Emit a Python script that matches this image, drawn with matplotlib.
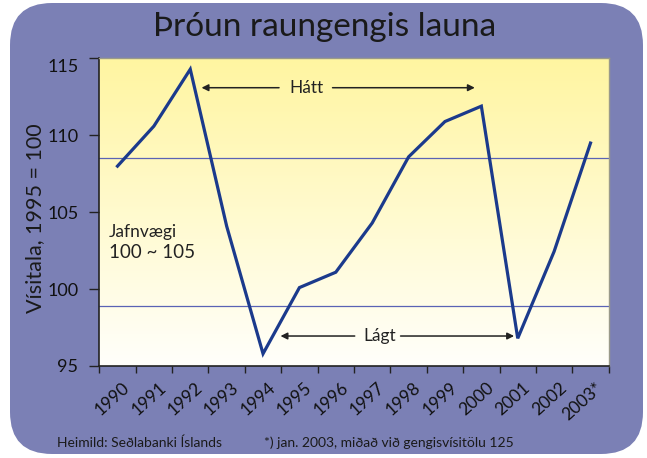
import matplotlib
matplotlib.use("Agg")
import matplotlib.pyplot as plt
import numpy as np
from matplotlib.patches import FancyBboxPatch
import matplotlib.transforms as mtransforms

years = ["1990", "1991", "1992", "1993", "1994", "1995", "1996", "1997",
         "1998", "1999", "2000", "2001", "2002", "2003*"]
index_values = [108.0, 110.6, 114.3, 104.1, 95.8, 100.1, 101.1, 104.3,
                108.6, 110.9, 111.9, 96.8, 102.45, 109.5]
band_lines = [98.9, 108.5]
y_ticks = [95, 100, 105, 110, 115]

title = "Þróun raungengis launa"
ylabel = "Vísitala, 1995 = 100"
source = "Heimild: Seðlabanki Íslands"
note = "*) jan. 2003, miðað við gengisvísitölu 125"

FONT = ["Lato", "DejaVu Sans"]
plt.rcParams['font.family'] = FONT

PANEL = "#7b80b5"
LINE = "#1b3a8c"
HLINE = "#5a63b5"

fig = plt.figure(figsize=(6.47, 4.58), dpi=100)
fig.patch.set_facecolor("white")

# rounded purple panel
W, H = 647, 458
panel = FancyBboxPatch((10 / W, 4 / H), (643 - 10) / W, (455 - 4) / H,
                       boxstyle="round,pad=0,rounding_size=0.065",
                       transform=fig.transFigure, facecolor=PANEL,
                       edgecolor="none", zorder=0,
                       mutation_aspect=W / H)
fig.patches.append(panel)

ax = fig.add_axes([99.3 / W, 1 - 366 / H, (608.7 - 99.3) / W, (366 - 58.5) / H])
ax.set_zorder(1)

x = np.arange(len(years))
ax.set_xlim(-0.5, len(years) - 0.5)

# gradient background (yellow at top, white at bottom)
grad = np.linspace(0, 1, 256).reshape(-1, 1)
top = np.array([1.0, 0.962, 0.63])
bot = np.array([1.0, 1.0, 0.985])
img = (top * (1 - grad) + bot * grad).reshape(256, 1, 3)
ax.imshow(img, extent=[-0.5, len(years) - 0.5, 95, 115], origin="upper",
          aspect="auto", zorder=0)
ax.set_ylim(95, 115)

for b in band_lines:
    ax.axhline(b, color=HLINE, lw=0.9, zorder=1)

ax.plot(x, index_values, color=LINE, lw=2.3, solid_joinstyle="miter", zorder=3)

# ticks
ax.set_xticks(np.arange(-0.5, len(years), 1.0))
ax.set_xticklabels([])
ax.set_xticks(x, minor=True)
ax.set_xticklabels(years, minor=True, rotation=42, ha="right", va="center",
                   rotation_mode="anchor", fontsize=12.5, color="#111111")
ax.tick_params(axis="x", which="minor", length=0, pad=14)
ax.tick_params(axis="x", which="major", length=5, width=1.0, direction="out",
               color="#222222")
for lbl in ax.get_xticklabels(minor=True):
    lbl.set_transform(lbl.get_transform() +
                      mtransforms.ScaledTranslation(10 / 100, 0, fig.dpi_scale_trans))

ax.set_yticks(y_ticks)
ax.set_yticklabels([str(v) for v in y_ticks], fontsize=13, color="#111111")
ax.tick_params(axis="y", length=7, width=1.0, direction="out", pad=8,
               color="#222222")
ylabs = ax.get_yticklabels()
ylabs[-1].set_transform(ylabs[-1].get_transform() +
                        mtransforms.ScaledTranslation(0, -7 / 100, fig.dpi_scale_trans))

for s in ["left", "bottom"]:
    ax.spines[s].set_color("#222222")
    ax.spines[s].set_linewidth(1.2)
for s in ["top", "right"]:
    ax.spines[s].set_color("#9a9a8a")
    ax.spines[s].set_linewidth(1.0)

# annotations
arrow_kw = dict(arrowstyle="-|>", color="#222222", lw=1.1,
                mutation_scale=10, shrinkA=0, shrinkB=0)
ax.annotate("", xy=(2.31, 113.1), xytext=(4.44, 113.1), arrowprops=arrow_kw, zorder=4)
ax.annotate("", xy=(9.82, 113.1), xytext=(5.91, 113.1), arrowprops=arrow_kw, zorder=4)
ax.text(5.20, 113.1, "Hátt", ha="center", va="center", fontsize=12.5, color="#222222")
ax.annotate("", xy=(4.48, 96.95), xytext=(6.52, 96.95), arrowprops=arrow_kw, zorder=4)
ax.annotate("", xy=(10.90, 96.95), xytext=(7.78, 96.95), arrowprops=arrow_kw, zorder=4)
ax.text(7.21, 96.95, "Lágt", ha="center", va="center", fontsize=12.5, color="#222222")

ax.text(109 / W, 1 - 232 / H, "Jafnvægi", transform=fig.transFigure,
        ha="left", va="center", fontsize=12.5, color="#222222")
ax.text(109 / W, 1 - 253 / H, "100 ~ 105", transform=fig.transFigure,
        ha="left", va="center", fontsize=13.5, color="#222222")

fig.text(325 / W, 1 - 27 / H, title, ha="center", va="center", fontsize=24,
         color="#1a1a1a")
fig.text(35 / W, 1 - 218 / H, ylabel, ha="center", va="center", rotation=90,
         fontsize=15.5, color="#1a1a1a")
fig.text(57 / W, 1 - 443 / H, source, ha="left", va="center", fontsize=10,
         color="#1a1a1a")
fig.text(264 / W, 1 - 443 / H, note, ha="left", va="center", fontsize=10,
         color="#1a1a1a")

fig.savefig("out.png", dpi=100, facecolor="white")
